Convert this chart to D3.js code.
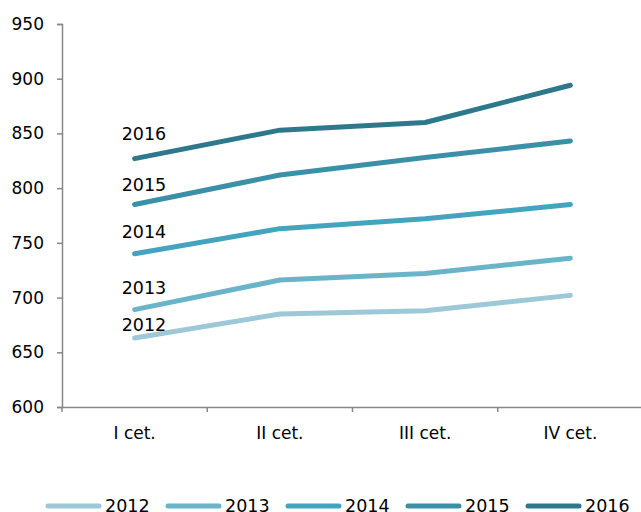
<!DOCTYPE html>
<html>
<head>
<meta charset="utf-8">
<script src="https://cdn.jsdelivr.net/npm/d3@7"></script>
<style>
  html, body { margin: 0; padding: 0; background: #fff; }
  svg { display: block; }
  text { font-family: Verdana, "DejaVu Sans", sans-serif; fill: #000; }
</style>
</head>
<body>
<svg id="chart" width="641" height="512"></svg>
<script>
const categories = ["I cet.", "II cet.", "III cet.", "IV cet."];
const years = ["2012", "2013", "2014", "2015", "2016"];
const values2012 = [663, 685, 688, 702];
const values2013 = [689, 716, 722, 736];
const values2014 = [740, 763, 772, 785];
const values2015 = [785, 812, 828, 843];
const values2016 = [827, 853, 860, 894];
const yTicks = [600, 650, 700, 750, 800, 850, 900, 950];
const colors = ["#9DC8D8", "#6AB4CA", "#44A3BF", "#3B90A8", "#2E788B"];
const title = "(EUR)";

const seriesValues = [values2012, values2013, values2014, values2015, values2016];
const series = years.map((y, i) => ({ year: y, values: seriesValues[i], color: colors[i] }));

// layout
const labelDy = [-7, -16, -16, -14, -19];
const svg = d3.select("#chart");
const mLeft = 62, mRight = 643, mTop = 24, mBottom = 407;

const x = d3.scaleBand().domain(categories).range([mLeft, mRight]);
const y = d3.scaleLinear().domain([600, 950]).range([mBottom, mTop]);

// title (mostly cut off at top)
svg.append("text").attr("x", 265).attr("y", -2).attr("text-anchor", "middle")
  .style("font-size", "17px").text(title);

// y axis
const yAxis = svg.append("g").attr("transform", `translate(${mLeft},0)`)
  .call(d3.axisLeft(y).tickValues(yTicks).tickSize(5).tickPadding(13));
yAxis.select(".domain").attr("stroke", "#888").attr("stroke-width", 1.5);
yAxis.selectAll(".tick line").attr("stroke", "#888").attr("stroke-width", 1.5);
yAxis.selectAll(".tick text").style("font-size", "17px").attr("fill", "#000")
  .style("font-family", 'Verdana, "DejaVu Sans", sans-serif');

// x axis
const xAxis = svg.append("g").attr("transform", `translate(0,${mBottom})`)
  .call(d3.axisBottom(x).tickSize(0).tickPadding(20));
xAxis.select(".domain").attr("stroke", "#888").attr("stroke-width", 1.5);
xAxis.selectAll(".tick text").style("font-size", "17px").attr("fill", "#000")
  .style("font-family", 'Verdana, "DejaVu Sans", sans-serif');
// category boundary ticks
const bounds = categories.map(c => x(c)).concat([x(categories[categories.length - 1]) + x.bandwidth()]);
svg.append("g").selectAll("line").data(bounds).join("line")
  .attr("x1", d => d).attr("x2", d => d)
  .attr("y1", mBottom).attr("y2", mBottom + 5)
  .attr("stroke", "#888").attr("stroke-width", 1.5);

// lines
const line = d3.line()
  .x((d, i) => x(categories[i]) + x.bandwidth() / 2)
  .y(d => y(d));

svg.append("g").selectAll("path").data(series).join("path")
  .attr("d", d => line(d.values))
  .attr("fill", "none")
  .attr("stroke", d => d.color)
  .attr("stroke-width", 5)
  .attr("stroke-linecap", "round")
  .attr("stroke-linejoin", "round");

// data labels at first point
svg.append("g").selectAll("text").data(series).join("text")
  .attr("x", x(categories[0]) + x.bandwidth() / 2 - 13)
  .attr("y", (d, i) => y(d.values[0]) + labelDy[i])
  .style("font-size", "17.5px")
  .text(d => d.year);

// legend
const legendX0 = 46, legendStep = 120, legendY = 506;
const lg = svg.append("g").selectAll("g").data(series).join("g")
  .attr("transform", (d, i) => `translate(${legendX0 + i * legendStep},${legendY})`);
lg.append("line").attr("x1", 2).attr("x2", 53).attr("y1", 0).attr("y2", 0)
  .attr("stroke", d => d.color).attr("stroke-width", 5).attr("stroke-linecap", "round");
lg.append("text").attr("x", 59).attr("y", 6).style("font-size", "17.5px").text(d => d.year);
</script>
</body>
</html>
